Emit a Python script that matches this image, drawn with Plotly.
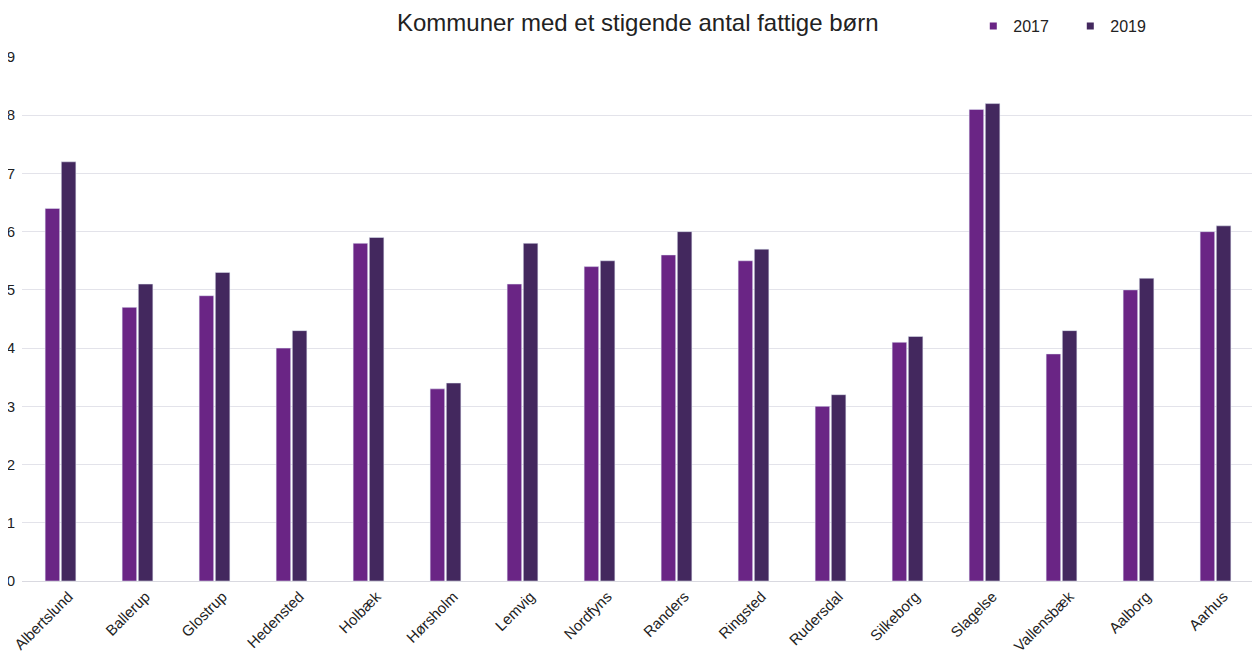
import plotly.graph_objects as go

categories = ["Albertslund", "Ballerup", "Glostrup", "Hedensted", "Holbæk", "Hørsholm",
              "Lemvig", "Nordfyns", "Randers", "Ringsted", "Rudersdal", "Silkeborg",
              "Slagelse", "Vallensbæk", "Aalborg", "Aarhus"]
values_2017 = [6.4, 4.7, 4.9, 4.0, 5.8, 3.3, 5.1, 5.4, 5.6, 5.5, 3.0, 4.1, 8.1, 3.9, 5.0, 6.0]
values_2019 = [7.2, 5.1, 5.3, 4.3, 5.9, 3.4, 5.8, 5.5, 6.0, 5.7, 3.2, 4.2, 8.2, 4.3, 5.2, 6.1]
series_names = ["2017", "2019"]
series_colors = ["#6a2585", "#43285e"]

font = "Liberation Sans, Arial, sans-serif"

fig = go.Figure()
for name, vals, col in zip(series_names, [values_2017, values_2019], series_colors):
    fig.add_trace(go.Bar(name=name, x=categories, y=vals, marker_color=col,
                         showlegend=False, legendgroup=name))
    # small square legend markers
    fig.add_trace(go.Scatter(name=name, x=[None], y=[None], mode="markers",
                             marker=dict(symbol="square", size=7, color=col),
                             showlegend=True, legendgroup=name))

fig.update_layout(
    width=1252, height=647,
    margin=dict(l=14, r=6, t=49, b=74),
    paper_bgcolor="white", plot_bgcolor="white",
    barmode="group", bargap=0.58, bargroupgap=0.1,
    title=dict(text="Kommuner med et stigende antal fattige børn", x=0.503, xanchor="center",
               y=0.978, yanchor="middle", font=dict(family=font, size=24, color="#222222")),
    legend=dict(orientation="h", xref="container", yref="container",
                x=0.771, y=0.972, xanchor="left", yanchor="middle",
                font=dict(family=font, size=16, color="#222222"), itemwidth=30,
                entrywidth=52, entrywidthmode="pixels",
                bgcolor="rgba(0,0,0,0)"),
    font=dict(family=font, color="#222222"),
)
fig.update_xaxes(tickangle=-45, tickfont=dict(size=15, family=font, color="#222222"),
                 showline=True, linecolor="#d9d9e0", linewidth=1, ticks="", showgrid=False,
                 automargin=False, ticklabelshift=8)
fig.update_yaxes(range=[0, 9], dtick=1, showgrid=True, gridcolor="#e3e3ea", gridwidth=1,
                 tickfont=dict(size=15, family=font, color="#222222"), zeroline=False,
                 ticklabelstandoff=6, automargin=False)

fig.write_html("out.html")
